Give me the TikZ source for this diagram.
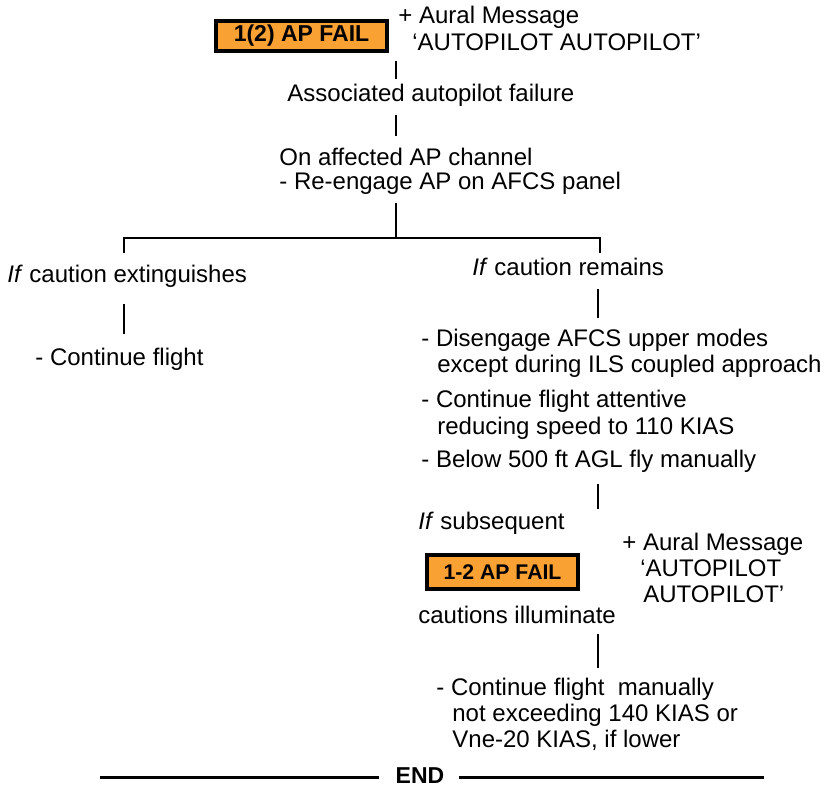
\documentclass[tikz,border=0pt]{standalone}
\usepackage{fontspec}
\setmainfont{Liberation Sans}
\definecolor{cautionorange}{RGB}{250,161,52}
\begin{document}
\begin{tikzpicture}[x=0.5pt,y=-0.5pt,
  txt/.style={anchor=base west,inner sep=0pt,font=\fontsize{12}{14}\selectfont},
  link/.style={line width=1.3pt},
  endrule/.style={line width=1.5pt},
  caution/.style={draw=black,line width=2pt,fill=cautionorange,inner sep=0pt,
    font=\bfseries\fontsize{11.5}{13}\selectfont}]
\useasboundingbox (0,0) rectangle (827,787);

% --- first caution and its aural message
\node[caution,minimum width=85.5pt,minimum height=15pt] (fail1) at (301.5,36) {1(2) AP FAIL};
\node[txt] (aural1) at (398,24) {+ Aural Message};
\node[txt] (msg1) at (412,50) {‘AUTOPILOT AUTOPILOT’};

\coordinate (a1) at (396,61);
\coordinate (a2) at (396,79);
\draw[link] (a1) -- (a2);

\node[txt] (assoc) at (287,101) {Associated autopilot failure};

\coordinate (b1) at (396,115);
\coordinate (b2) at (396,136);
\draw[link] (b1) -- (b2);

\node[txt] (onaff) at (279,165) {On affected AP channel};
\node[txt] (reeng) at (279,190) {- Re-engage AP on AFCS panel};

% --- branch
\coordinate (c1) at (396,203);
\coordinate (c2) at (396,238);
\coordinate (cl) at (124,238);
\coordinate (cr) at (600,238);
\coordinate (cld) at (124,253);
\coordinate (crd) at (600,253);
\draw[link] (c1) -- (c2);
\draw[link] (cld) -- (cl) -- (cr) -- (crd);

% --- left branch
\node[txt] (ext) at (7,282) {\textit{If} caution extinguishes};
\coordinate (d1) at (124,304);
\coordinate (d2) at (124,334);
\draw[link] (d1) -- (d2);
\node[txt] (cont1) at (35,365) {- Continue flight};

% --- right branch
\node[txt] (remain) at (472,276) {\textit{If} caution remains};
\coordinate (e1) at (598,289);
\coordinate (e2) at (598,318);
\draw[link] (e1) -- (e2);

\node[txt] (dis) at (421,346) {- Disengage AFCS upper modes};
\node[txt] (exc) at (437,372) {except during ILS coupled approach};
\node[txt] (att) at (421,408) {- Continue flight attentive};
\node[txt] (red) at (437,434) {reducing speed to 110 KIAS};
\node[txt] (below) at (421,467) {- Below 500 ft AGL fly manually};

\coordinate (f1) at (598,484);
\coordinate (f2) at (598,509);
\draw[link] (f1) -- (f2);

\node[txt] (subs) at (418,530) {\textit{If} subsequent};
\node[caution,minimum width=75.5pt,minimum height=17pt,
  font=\bfseries\fontsize{10.6}{12}\selectfont] (fail2) at (502.5,572) {1-2 AP FAIL};
\node[txt] (aural2) at (622,550) {+ Aural Message};
\node[txt] (msg2a) at (640,576) {‘AUTOPILOT};
\node[txt] (msg2b) at (643,603) {AUTOPILOT’};
\node[txt] (illum) at (418,623) {cautions illuminate};

\coordinate (g1) at (598,634);
\coordinate (g2) at (598,668);
\draw[link] (g1) -- (g2);

\node[txt] (man1) at (436,695) {- Continue flight\ \ manually};
\node[txt] (man2) at (452,721) {not exceeding 140 KIAS or};
\node[txt] (man3) at (452,747) {Vne-20 KIAS, if lower};

% --- end of procedure
\node[inner sep=0pt,font=\bfseries\fontsize{11.5}{13}\selectfont] (endlbl) at (420,776) {END};
\coordinate (h1) at (100,777);
\coordinate (h2) at (379,777);
\coordinate (h3) at (459,777);
\coordinate (h4) at (764,777);
\draw[endrule] (h1) -- (h2);
\draw[endrule] (h3) -- (h4);
\end{tikzpicture}
\end{document}
